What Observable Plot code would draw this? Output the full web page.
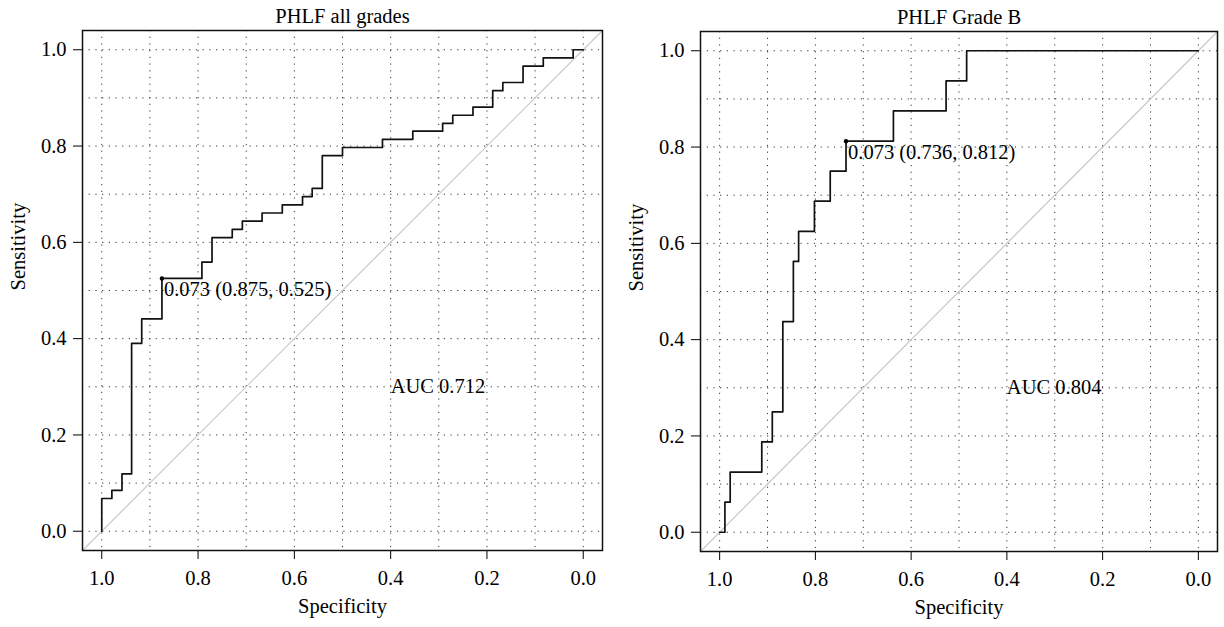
<!DOCTYPE html>
<html>
<head>
<meta charset="utf-8">
<script src="https://cdn.jsdelivr.net/npm/d3@7"></script>
<script src="https://cdn.jsdelivr.net/npm/@observablehq/plot@0.6"></script>
<style>
  html, body { margin: 0; padding: 0; background: #fff; }
  #wrap { display: flex; width: 1224px; height: 627px; }
</style>
</head>
<body>
<div id="wrap"></div>
<script>
// ROC points (specificity, sensitivity), PHLF all grades
const allSpec = [1, 1, 0.979, 0.958, 0.938, 0.917, 0.875, 0.792, 0.771, 0.729, 0.708, 0.667, 0.625, 0.583, 0.563, 0.542, 0.5, 0.417, 0.354, 0.292, 0.271, 0.229, 0.188, 0.167, 0.125, 0.083, 0.021, 0];
const allSens = [0, 0.068, 0.085, 0.119, 0.390, 0.441, 0.525, 0.559, 0.610, 0.627, 0.644, 0.661, 0.678, 0.695, 0.712, 0.780, 0.797, 0.814, 0.831, 0.847, 0.864, 0.881, 0.915, 0.932, 0.966, 0.983, 1, 1];
// ROC points, PHLF Grade B
const bSpec = [1, 0.989, 0.978, 0.912, 0.890, 0.868, 0.846, 0.835, 0.802, 0.769, 0.736, 0.637, 0.527, 0.484, 0];
const bSens = [0, 0.0625, 0.125, 0.1875, 0.25, 0.4375, 0.5625, 0.625, 0.6875, 0.75, 0.8125, 0.875, 0.9375, 1, 1];

const titles = ["PHLF all grades", "PHLF Grade B"];
const bestPoints = [{spec: 0.875, sens: 0.525, label: "0.073 (0.875, 0.525)"},
                    {spec: 0.736, sens: 0.812, label: "0.073 (0.736, 0.812)"}];
const aucLabels = ["AUC 0.712", "AUC 0.804"];
const tickValues = [1.0, 0.8, 0.6, 0.4, 0.2, 0.0];
const gridValues = [0, 0.1, 0.2, 0.3, 0.4, 0.5, 0.6, 0.7, 0.8, 0.9, 1.0];

function panel(spec, sens, title, best, auc, margins) {
  const pts = spec.map((s, i) => ({spec: s, sens: sens[i]}));
  return Plot.plot({
    width: 612,
    height: 627,
    marginLeft: margins.left,
    marginRight: margins.right,
    marginTop: margins.top,
    marginBottom: 627 - margins.bottom,
    style: {fontFamily: "'Liberation Serif', serif", fontSize: "20.5px", background: "#fff", color: "#000"},
    x: {domain: [1.04, -0.04]},
    y: {domain: [-0.04, 1.04]},
    marks: [
      Plot.gridX(gridValues, {stroke: "#333", strokeOpacity: 1, strokeWidth: 1, strokeDasharray: "1.2,5.5"}),
      Plot.gridY(gridValues, {stroke: "#333", strokeOpacity: 1, strokeWidth: 1, strokeDasharray: "1.2,5.5"}),
      Plot.line([{spec: 1.04, sens: -0.04}, {spec: -0.04, sens: 1.04}], {x: "spec", y: "sens", stroke: "#c8c8c8", strokeWidth: 1.2}),
      Plot.line(pts, {x: "spec", y: "sens", curve: "step-after", stroke: "#111", strokeWidth: 1.7}),
      Plot.dot([best], {x: "spec", y: "sens", r: 2.2, fill: "#000", stroke: null}),
      Plot.text([best], {x: "spec", y: "sens", text: "label", textAnchor: "start", lineAnchor: "top", dx: 2, dy: 3}),
      Plot.text([auc], {x: () => 0.4, y: () => 0.3, text: d => d, textAnchor: "start", lineAnchor: "middle"}),
      Plot.axisX(tickValues, {tickFormat: d3.format(".1f"), tickSize: 9, tickPadding: 11, label: null}),
      Plot.axisY(tickValues, {tickFormat: d3.format(".1f"), tickSize: 9, tickPadding: 7, label: null}),
      Plot.frame({stroke: "#111", strokeWidth: 1.5}),
      Plot.text([title], {frameAnchor: "top", text: d => d, lineAnchor: "bottom", dy: -8}),
      Plot.text(["Specificity"], {frameAnchor: "bottom", text: d => d, lineAnchor: "middle", dy: 56}),
      Plot.text(["Sensitivity"], {frameAnchor: "left", text: d => d, rotate: -90, lineAnchor: "middle", dx: -64})
    ]
  });
}

const wrap = document.getElementById("wrap");
wrap.appendChild(panel(allSpec, allSens, titles[0], bestPoints[0], aucLabels[0], {left: 82, right: 10, top: 30, bottom: 550}));
wrap.appendChild(panel(bSpec, bSens, titles[1], bestPoints[1], aucLabels[1], {left: 88, right: 7, top: 31, bottom: 551}));
</script>
</body>
</html>
